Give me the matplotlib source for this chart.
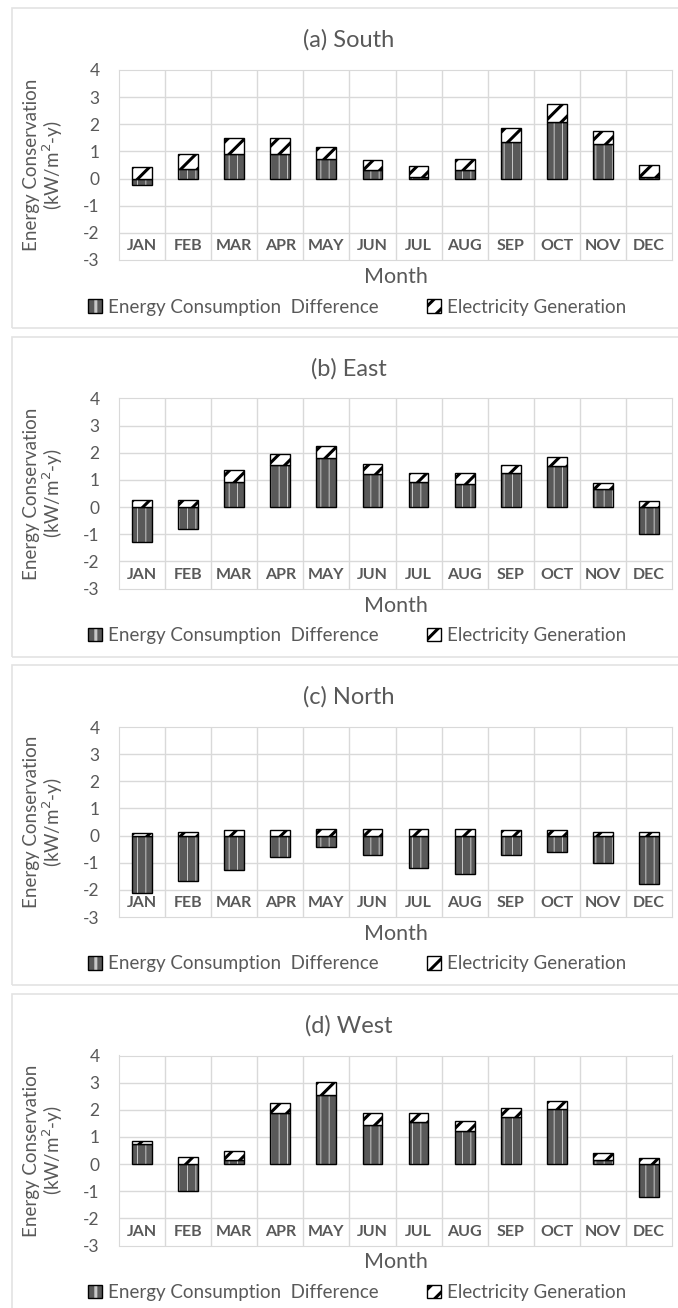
import numpy as np
import matplotlib
matplotlib.use('Agg')
from matplotlib import pyplot as plt
from matplotlib.patches import Rectangle
from matplotlib.legend_handler import HandlerTuple

plt.rcParams['font.family'] = ['Lato', 'DejaVu Sans']

months = ['JAN', 'FEB', 'MAR', 'APR', 'MAY', 'JUN', 'JUL', 'AUG', 'SEP', 'OCT', 'NOV', 'DEC']
titles = ['(a) South', '(b) East', '(c) North', '(d) West']

# energy consumption difference per month
cons_south = [-0.25, 0.37, 0.89, 0.92, 0.71, 0.31, 0.06, 0.31, 1.35, 2.09, 1.29, 0.04]
cons_east = [-1.29, -0.79, 0.94, 1.56, 1.81, 1.23, 0.94, 0.86, 1.25, 1.52, 0.66, -0.98]
cons_north = [-2.10, -1.67, -1.26, -0.78, -0.41, -0.72, -1.21, -1.42, -0.72, -0.62, -1.01, -1.77]
cons_west = [0.74, -0.99, 0.16, 1.87, 2.56, 1.44, 1.54, 1.23, 1.75, 2.03, 0.15, -1.20]

# electricity generation per month
gen_south = [0.43, 0.52, 0.59, 0.58, 0.46, 0.37, 0.40, 0.42, 0.52, 0.65, 0.48, 0.45]
gen_east = [0.26, 0.26, 0.44, 0.41, 0.43, 0.37, 0.31, 0.39, 0.31, 0.34, 0.24, 0.22]
gen_north = [0.09, 0.14, 0.19, 0.19, 0.25, 0.25, 0.25, 0.25, 0.19, 0.19, 0.15, 0.15]
gen_west = [0.12, 0.25, 0.33, 0.37, 0.46, 0.46, 0.36, 0.37, 0.33, 0.31, 0.26, 0.21]

cons_all = [cons_south, cons_east, cons_north, cons_west]
gen_all = [gen_south, gen_east, gen_north, gen_west]

W, H = 678, 1308
txt = '#595959'
grid = '#d9d9d9'

fig = plt.figure(figsize=(W / 100, H / 100), dpi=100)


def fx(px):
    return px / W


def fy(py):
    return 1 - py / H


def set_hlw(patches, lw):
    for p in patches:
        try:
            p.set_hatch_linewidth(lw)
        except AttributeError:
            pass


for k in range(4):
    off = k * 328.5
    # panel border
    fig.patches.append(Rectangle((fx(12), fy(off + 328)), fx(700), (320) / H,
                                 transform=fig.transFigure, fill=False,
                                 edgecolor='#e3e3e3', linewidth=1.2))
    top = off + 70
    bot = off + 260
    ax = fig.add_axes([fx(119), fy(bot), fx(672 - 119), (bot - top) / H])

    cons = np.array(cons_all[k])
    gen = np.array(gen_all[k])
    x = np.arange(len(months))
    bw = 0.43

    plt.rcParams['hatch.linewidth'] = 0.7
    b1 = ax.bar(x, cons, bw, color='#595959', edgecolor='#c8c8c8', hatch='||',
                linewidth=0, zorder=3)
    set_hlw(b1, 0.7)
    b1e = ax.bar(x, cons, bw, color='none', edgecolor='black', linewidth=1.0, zorder=4)
    base = np.where(cons > 0, cons, 0)
    plt.rcParams['hatch.linewidth'] = 2.2
    b2 = ax.bar(x, gen, bw, bottom=base, color='white', edgecolor='black', hatch='//',
                linewidth=1.0, zorder=4)
    set_hlw(b2, 2.2)

    ax.set_ylim(-3, 4)
    ax.set_xlim(-0.5, 11.5)
    ax.set_yticks(range(-3, 5))
    ax.set_yticklabels([str(v) for v in range(-3, 5)], color=txt, fontsize=12.5)
    ax.tick_params(axis='y', length=0, pad=14)
    ax.set_xticks([])
    for v in range(-2, 4):
        ax.axhline(v, color=grid, linewidth=1, zorder=1)
    for v in np.arange(0.5, 11, 1):
        ax.axvline(v, color=grid, linewidth=1, zorder=1)
    for s in ax.spines.values():
        s.set_color(grid)
    for i, m in enumerate(months):
        ax.text(i, -2.5, m, ha='center', va='center', color=txt, fontsize=11.5,
                fontweight='bold')

    ax.set_ylabel('Energy Conservation\n(kW/m$^2$-y)', color=txt, fontsize=13.5,
                  linespacing=1.05)
    ax.yaxis.set_label_coords(-0.097, 0.5)

    fig.text(fx(349), fy(off + 40), titles[k], ha='center', va='center',
             color=txt, fontsize=17)
    fig.text(fx(396), fy(off + 277), 'Month', ha='center', va='center',
             color=txt, fontsize=15.5)
    ax.legend([(b1[0], b1e[0]), b2[0]],
              ['Energy Consumption  Difference', 'Electricity Generation'],
              handler_map={tuple: HandlerTuple(ndivide=1)},
              loc='center', bbox_to_anchor=(fx(357), fy(off + 307)),
              bbox_transform=fig.transFigure, ncol=2, frameon=False,
              fontsize=13.5, labelcolor=txt, handlelength=0.75, handleheight=0.75,
              handletextpad=0.3, columnspacing=2.6)

fig.savefig('out.png', dpi=100, facecolor='white')
